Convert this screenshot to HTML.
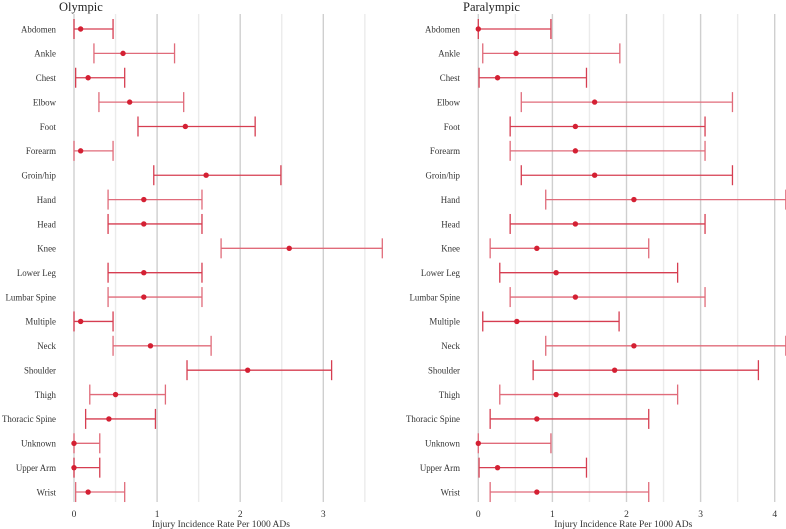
<!DOCTYPE html>
<html><head><meta charset="utf-8"><style>
html,body{margin:0;padding:0;background:#fff;}
svg{display:block;font-family:"Liberation Serif",serif;}
</style></head><body>
<svg id="chart" width="786" height="529"></svg>
<script>
const categories=["Abdomen","Ankle","Chest","Elbow","Foot","Forearm","Groin/hip","Hand","Head","Knee","Lower Leg","Lumbar Spine","Multiple","Neck","Shoulder","Thigh","Thoracic Spine","Unknown","Upper Arm","Wrist"];
const olyRate=[0.08,0.59,0.17,0.67,1.34,0.08,1.59,0.84,0.84,2.59,0.84,0.84,0.08,0.92,2.09,0.50,0.42,0,0,0.17];
const olyLow=[0,0.24,0.02,0.30,0.77,0,0.96,0.41,0.41,1.77,0.41,0.41,0,0.47,1.36,0.19,0.14,0,0,0.02];
const olyHigh=[0.47,1.21,0.61,1.32,2.18,0.47,2.49,1.54,1.54,3.71,1.54,1.54,0.47,1.65,3.10,1.10,0.98,0.31,0.31,0.61];
const paraRate=[0,0.51,0.26,1.57,1.31,1.31,1.57,2.10,1.31,0.79,1.05,1.31,0.52,2.10,1.84,1.05,0.79,0,0.26,0.79];
const paraLow=[0,0.06,0.01,0.58,0.43,0.43,0.58,0.91,0.43,0.16,0.29,0.43,0.06,0.91,0.74,0.29,0.16,0,0.01,0.16];
const paraHigh=[0.98,1.91,1.46,3.43,3.06,3.06,3.43,4.15,3.06,2.30,2.69,3.06,1.90,4.15,3.78,2.69,2.30,0.98,1.46,2.30];
const olyTicks=[0,1,2,3];
const paraTicks=[0,1,2,3,4];

const NS="http://www.w3.org/2000/svg";
const svg=document.getElementById("chart");
function mk(tag,attrs,parent){const e=document.createElementNS(NS,tag);for(const k in attrs)e.setAttribute(k,attrs[k]);(parent||svg).appendChild(e);return e;}
const y=i=>29+i*24.37;

function panel(key,title,x0,ppu,maxGrid,ticks,rate,low,high,labelX,titleX){
  const g=mk("g",{});
  
  
  const x=v=>x0+v*ppu;
  for(let v=0;v<=maxGrid+1e-9;v+=0.5){
    const major=Math.abs(v-Math.round(v))<1e-9;
    const l=mk("line",{x1:x(v),x2:x(v),y1:14,y2:502,stroke:major?"#cfcfcf":"#ebebeb","stroke-width":1.4},g);
    
    
  }
  const t=mk("text",{x:titleX,y:11,"font-size":12.5,fill:"#222"},g);
  t.textContent=title;
  
  
  ticks.forEach(v=>{
    const tl=mk("text",{x:x(v),y:517,"font-size":9.5,fill:"#333","text-anchor":"middle"},g);
    tl.textContent=v;
    
    
  });
  const at=mk("text",{x:x(0)+(key==="olympic"?147:145),y:527,"font-size":9.5,fill:"#333","text-anchor":"middle"},g);
  at.textContent="Injury Incidence Rate Per 1000 ADs";
  
  
  categories.forEach((c,i)=>{
    const lab=mk("text",{x:labelX,y:y(i)+3.3,"font-size":8.9,fill:"#333","text-anchor":"end"},g);
    lab.textContent=c;
    
    
    const col=i%2?"#e06b7a":"#d63e51";
    const eb=mk("g",{stroke:col,"stroke-width":1.3},g);
    
    
    mk("line",{x1:x(low[i]),x2:x(high[i]),y1:y(i),y2:y(i)},eb);
    mk("line",{x1:x(low[i]),x2:x(low[i]),y1:y(i)-10,y2:y(i)+10},eb);
    mk("line",{x1:x(high[i]),x2:x(high[i]),y1:y(i)-10,y2:y(i)+10},eb);
    const p=mk("circle",{cx:x(rate[i]),cy:y(i),r:2.7,fill:"#d42033"},g);
    
    
  });
}
panel("olympic","Olympic",74,83.1,3.5,olyTicks,olyRate,olyLow,olyHigh,56,59);
panel("paralympic","Paralympic",478.3,74.1,4,paraTicks,paraRate,paraLow,paraHigh,460,463);
</script>
</body></html>
